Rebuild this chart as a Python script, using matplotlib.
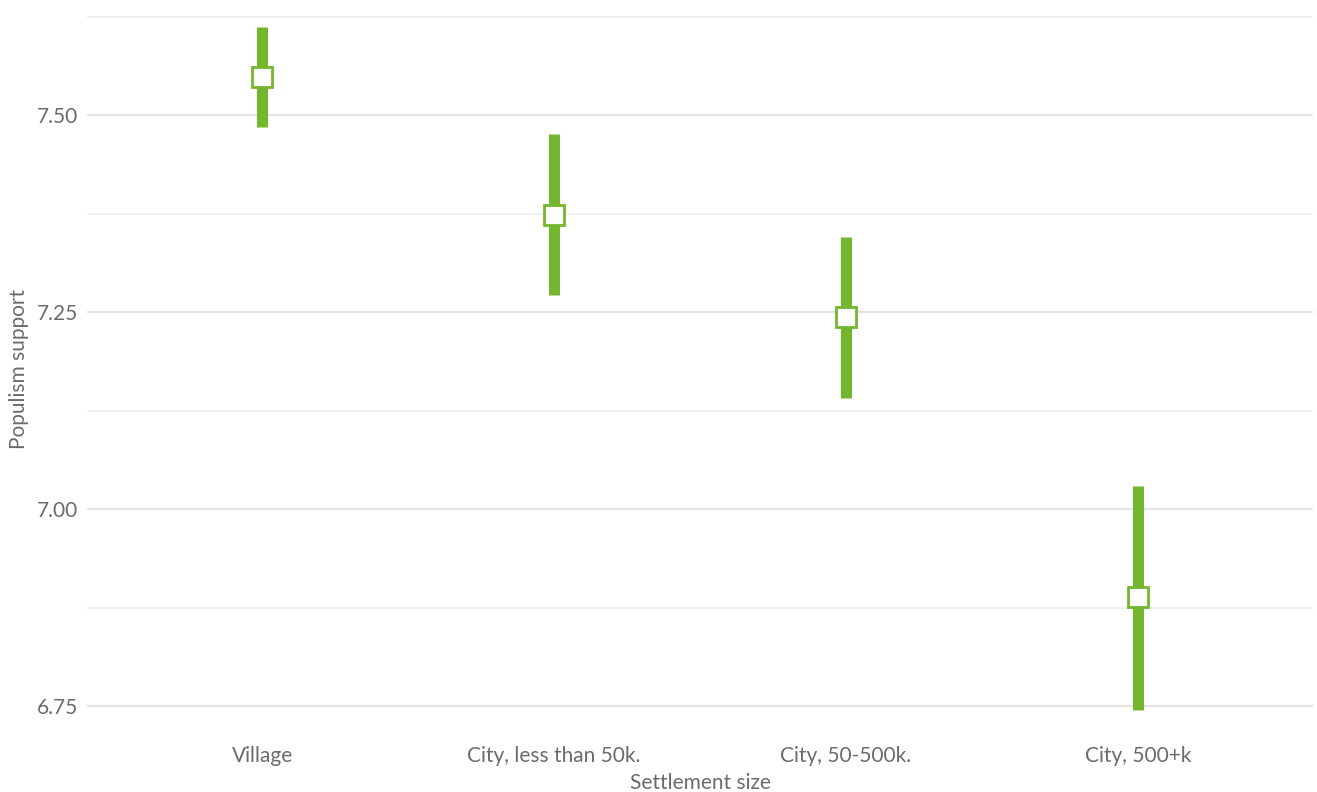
import numpy as np
import matplotlib.pyplot as plt
from matplotlib.ticker import MultipleLocator

plt.rcParams['font.family'] = ['Lato', 'DejaVu Sans']

categories = ["Village", "City, less than 50k.", "City, 50-500k.", "City, 500+k"]
means = [7.548, 7.374, 7.244, 6.888]
lower = [7.485, 7.272, 7.141, 6.745]
upper = [7.612, 7.476, 7.346, 7.030]

green = "#74b72e"
grid_c = "#e4e4e4"
text_c = "#6b6b6b"

fig = plt.figure(figsize=(13.17, 7.92), dpi=100)
ax = fig.add_axes([0.066, 0.0934, 0.931, 0.9003])

x = np.arange(len(categories))

# major and minor horizontal grid
ax.yaxis.set_major_locator(MultipleLocator(0.25))
ax.yaxis.set_minor_locator(MultipleLocator(0.125))
ax.grid(axis="y", which="major", color=grid_c, linewidth=1.6, zorder=0)
ax.grid(axis="y", which="minor", color="#efefef", linewidth=1.3, zorder=0)
for xi in x:
    ax.axvline(xi, color="white", linewidth=0.8, zorder=0.5)

# confidence intervals
ax.vlines(x, lower, upper, color=green, linewidth=8, zorder=2)
ax.plot(x, means, linestyle="none", marker="s", markersize=15,
        markerfacecolor="white", markeredgecolor=green, markeredgewidth=2, zorder=3)

ax.set_xlim(-0.6, 3.6)
ax.set_ylim(6.735, 7.64)
ax.set_xticks(x)
ax.set_xticklabels(categories)
ax.yaxis.set_major_formatter(plt.FuncFormatter(lambda v, p: f"{v:.2f}"))

for s in ax.spines.values():
    s.set_visible(False)
ax.tick_params(axis="both", which="both", length=0, labelsize=15, colors=text_c)
ax.tick_params(axis="x", pad=20)
ax.tick_params(axis="y", pad=6)

ax.set_xlabel("Settlement size", fontsize=15, color=text_c, va="center")
ax.xaxis.set_label_coords(0.5, -0.091)
ax.set_ylabel("Populism support", fontsize=15, color=text_c)
ax.yaxis.set_label_coords(-0.047, 0.49)

fig.savefig("out.png", dpi=100)
